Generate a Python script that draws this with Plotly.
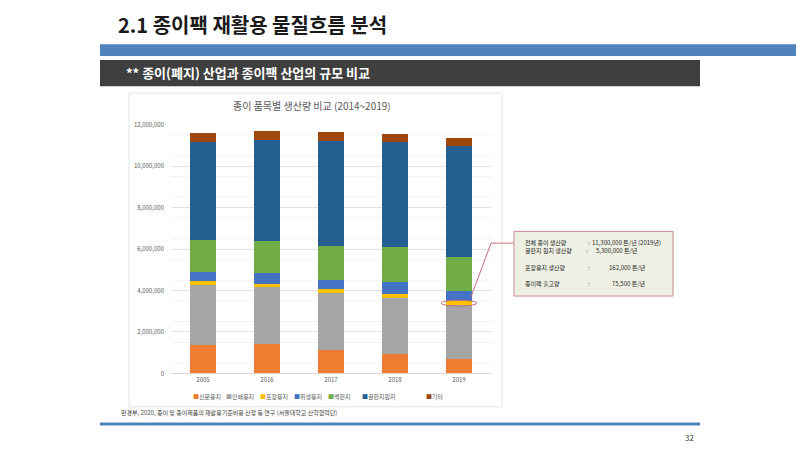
import plotly.graph_objects as go

years = ["2005", "2016", "2017", "2018", "2019"]
series_names = ["신문용지", "인쇄용지", "포장용지", "위생용지", "백판지", "골판지원지", "기타"]
newsprint = [1370000, 1420000, 1130000, 960000, 710000]
printing = [2880000, 2740000, 2730000, 2680000, 2600000]
packaging = [200000, 170000, 190000, 200000, 162000]
sanitary = [460000, 520000, 480000, 570000, 520000]
whiteboard = [1510000, 1540000, 1610000, 1670000, 1640000]
corrugated = [4730000, 4880000, 5060000, 5070000, 5320000]
others = [420000, 410000, 440000, 390000, 380000]
series_values = [newsprint, printing, packaging, sanitary, whiteboard, corrugated, others]
colors = ["#ED7D31", "#A5A5A5", "#FFC000", "#4472C4", "#70AD47", "#255E91", "#9E480E"]
y_ticks = [0, 2000000, 4000000, 6000000, 8000000, 10000000, 12000000]

FONT = "Noto Sans CJK KR"
W, H = 800, 450


def px(x):
    return x / W


def py(y):
    return 1 - y / H


fig = go.Figure()
for name, vals, c in zip(series_names, series_values, colors):
    fig.add_trace(go.Bar(x=years, y=vals, name=name, marker=dict(color=c, line=dict(width=0)),
                         showlegend=False))

shapes = []
# header decorations
shapes.append(dict(type="rect", xref="paper", yref="paper", x0=px(100), x1=px(796), y0=py(52), y1=py(40),
                   fillcolor="#4F81BD", line=dict(width=0), layer="below"))
shapes.append(dict(type="rect", xref="paper", yref="paper", x0=px(100), x1=px(700), y0=py(83), y1=py(56),
                   fillcolor="#3F3F3F", line=dict(width=0), layer="below"))
# bottom line
shapes.append(dict(type="rect", xref="paper", yref="paper", x0=px(100), x1=px(700), y0=py(429), y1=py(426),
                   fillcolor="#4F81BD", line=dict(width=0), layer="below"))
# chart frame
shapes.append(dict(type="rect", xref="paper", yref="paper", x0=px(129), x1=px(502), y0=py(410), y1=py(90),
                   fillcolor="rgba(0,0,0,0)", line=dict(color="#E4E4E4", width=1), layer="below"))
# minor gridlines
for v in range(500000, 12000000, 1000000):
    shapes.append(dict(type="line", xref="paper", yref="y", x0=px(171), x1=px(492), y0=v, y1=v,
                       line=dict(color="#F2F2F2", width=1), layer="below"))

# ellipse around packaging 2019
last = len(years) - 1
yc = newsprint[last] + printing[last] + packaging[last] / 2
shapes.append(dict(type="circle", xref="x", yref="y", x0=last - 0.28, x1=last + 0.28,
                   y0=yc - 140000, y1=yc + 140000, line=dict(color="#C0707A", width=1)))
# connector
shapes.append(dict(type="line", xref="paper", yref="paper", x0=px(471), y0=py(298), x1=px(491), y1=py(243),
                   line=dict(color="#C0707A", width=1)))
shapes.append(dict(type="line", xref="paper", yref="paper", x0=px(491), y0=py(243), x1=px(514), y1=py(243),
                   line=dict(color="#C0707A", width=1)))
# info box
shapes.append(dict(type="rect", xref="paper", yref="paper", x0=px(514), x1=px(673), y0=py(297), y1=py(231),
                   fillcolor="#EEF0E3", line=dict(color="#C98A90", width=1)))

annotations = []
annotations.append(dict(text="<b>2.1 종이팩 재활용 물질흐름 분석</b>", x=px(116), y=py(20), xref="paper", yref="paper",
                        xanchor="left", yanchor="middle", showarrow=False,
                        font=dict(family=FONT, size=20, color="#1A1A1A")))
annotations.append(dict(text="<b>** 종이(폐지) 산업과 종이팩 산업의 규모 비교</b>", x=px(124), y=py(69), xref="paper",
                        yref="paper", xanchor="left", yanchor="middle", showarrow=False,
                        font=dict(family=FONT, size=13, color="#FFFFFF")))
annotations.append(dict(text="종이 품목별 생산량 비교 (2014~2019)", x=px(312), y=py(103), xref="paper", yref="paper",
                        xanchor="center", yanchor="middle", showarrow=False,
                        font=dict(family=FONT, size=10, color="#595959")))
annotations.append(dict(text="환경부, 2020, 종이 및 종이제품의 재활용기준비용 산정 등 연구 (서울대학교 산학협력단)",
                        x=px(119), y=py(416), xref="paper", yref="paper", xanchor="left", yanchor="middle",
                        showarrow=False, font=dict(family=FONT, size=6, color="#404040")))
annotations.append(dict(text="32", x=px(689), y=py(441), xref="paper", yref="paper", xanchor="center",
                        yanchor="middle", showarrow=False, font=dict(family=FONT, size=8, color="#404040")))

# legend (manual)
legend_x = [191, 224, 258, 292, 326, 360, 424]
for name, c, lx in zip(series_names, colors, legend_x):
    annotations.append(dict(text=f"<span style='color:{c}'>■</span>{name}", x=px(lx), y=py(399), xref="paper",
                            yref="paper", xanchor="left", yanchor="middle", showarrow=False,
                            font=dict(family=FONT, size=6, color="#595959")))

box_labels = ["전체 종이 생산량", "골판지 원지 생산량", "포장용지 생산량", "종이팩 출고량"]
box_values = ["11,300,000 톤/년 (2019년)", "5,300,000 톤/년", "162,000 톤/년", "75,500 톤/년"]
box_value_x = [590, 594, 607, 610]
box_colon_x = [586, 584, 586, 586]
box_y = [242, 250.5, 268, 284]
for lab, val, vx, cx, yy in zip(box_labels, box_values, box_value_x, box_colon_x, box_y):
    annotations.append(dict(text=lab, x=px(523), y=py(yy), xref="paper", yref="paper", xanchor="left",
                            yanchor="middle", showarrow=False, font=dict(family=FONT, size=6, color="#262626")))
    annotations.append(dict(text=":", x=px(cx), y=py(yy), xref="paper", yref="paper", xanchor="left",
                            yanchor="middle", showarrow=False, font=dict(family=FONT, size=6, color="#262626")))
    annotations.append(dict(text=val, x=px(vx), y=py(yy), xref="paper", yref="paper", xanchor="left",
                            yanchor="middle", showarrow=False, font=dict(family=FONT, size=6, color="#262626")))

fig.update_layout(
    width=W, height=H, margin=dict(l=0, r=0, t=0, b=0),
    paper_bgcolor="#FFFFFF", plot_bgcolor="rgba(0,0,0,0)",
    barmode="stack", bargap=0.59, showlegend=False,
    font=dict(family=FONT, color="#595959"),
    xaxis=dict(domain=[px(171), px(491)], showgrid=False, showline=True, linecolor="#D9D9D9", linewidth=1,
               tickfont=dict(size=6, color="#595959"), ticks="", fixedrange=True),
    yaxis=dict(domain=[py(376), py(122)], range=[0, 12000000], tickvals=y_ticks,
               ticktext=[f"{v:,}" for v in y_ticks], tickfont=dict(size=6, color="#595959"),
               showgrid=True, gridcolor="#E3E3E3", gridwidth=1, zeroline=False, showline=False, ticks="",
               ticklabelstandoff=6),
    shapes=shapes, annotations=annotations,
)

fig.write_html("out.html")
